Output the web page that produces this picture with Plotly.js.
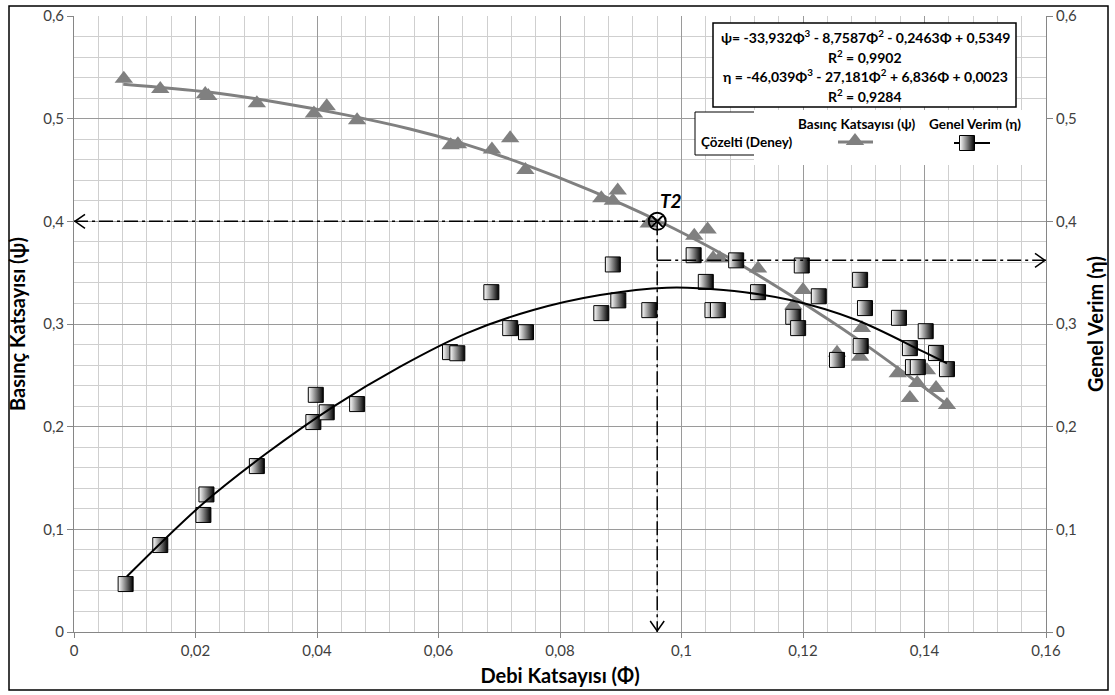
<!DOCTYPE html>
<html>
<head>
<meta charset="utf-8">
<script src="https://cdn.plot.ly/plotly-3.0.1.min.js"></script>
<style>
html,body{margin:0;padding:0;background:#fff;}
#chart{width:1115px;height:695px;}
</style>
</head>
<body>
<div id="chart"></div>
<script>
// ---- data ----
const phiPsi = [0.0082,0.0142,0.0216,0.0221,0.0301,0.0395,0.0416,0.0466,0.0620,0.0632,0.0688,0.0718,0.0743,0.0868,0.0887,0.0895,0.0946,0.1021,0.1043,0.1052,0.1063,0.1126,0.1184,0.1200,0.1256,0.1294,0.1297,0.1356,0.1376,0.1388,0.1404,0.1419,0.1437];
const psi    = [0.539,0.529,0.524,0.522,0.515,0.505,0.512,0.4985,0.474,0.475,0.470,0.481,0.450,0.4226,0.420,0.430,0.398,0.386,0.392,0.364,0.364,0.354,0.318,0.333,0.272,0.268,0.296,0.252,0.228,0.2425,0.255,0.2376,0.221];

const phiEta = [0.0085,0.0142,0.0213,0.0218,0.0301,0.0394,0.0398,0.0416,0.0466,0.0619,0.0631,0.0687,0.0718,0.0744,0.0868,0.0887,0.0896,0.0947,0.1020,0.1040,0.1051,0.1060,0.1090,0.1126,0.1184,0.1192,0.1198,0.1226,0.1256,0.1294,0.1295,0.1302,0.1358,0.1376,0.1381,0.1389,0.1402,0.1419,0.1437];
const eta    = [0.0467,0.0847,0.114,0.134,0.1616,0.2045,0.231,0.214,0.222,0.2726,0.2715,0.331,0.296,0.292,0.3106,0.358,0.323,0.3135,0.367,0.341,0.3135,0.3135,0.362,0.331,0.307,0.296,0.357,0.327,0.265,0.343,0.2785,0.3155,0.306,0.2765,0.258,0.258,0.293,0.2717,0.256];

// trend curves
const psiFitPhi = [0.0081,0.0224,0.0334,0.0443,0.0553,0.0630,0.0740,0.0849,0.0959,0.1069,0.1179,0.1288,0.1398,0.1442];
const psiFit    = [0.5336,0.5257,0.5160,0.5042,0.4900,0.4776,0.4558,0.4305,0.4013,0.3675,0.3282,0.2860,0.2389,0.2194];
const etaFitPhi = [0.0087,0.0213,0.0317,0.0427,0.0537,0.0646,0.0756,0.0866,0.0976,0.1069,0.1179,0.1288,0.1398,0.1437];
const etaFit    = [0.0540,0.1254,0.1741,0.2196,0.2585,0.2909,0.3136,0.3282,0.3354,0.3331,0.3234,0.3039,0.2730,0.2617];

// operating point T2
const t2Phi = 0.096, t2Psi = 0.4, t2Eta = 0.362;

const xTicks = [0,0.02,0.04,0.06,0.08,0.1,0.12,0.14,0.16];
const yTicks = [0,0.1,0.2,0.3,0.4,0.5,0.6];

const eqLines = [
  "ψ= -33,932Φ<sup>3</sup> - 8,7587Φ<sup>2</sup> - 0,2463Φ + 0,5349",
  "R<sup>2</sup> = 0,9902",
  "η = -46,039Φ<sup>3</sup> - 27,181Φ<sup>2</sup> + 6,836Φ + 0,0023",
  "R<sup>2</sup> = 0,9284"
];
const seriesNames = ["Basınç Katsayısı (ψ)", "Genel Verim (η)"];
const groupName = "Çözelti (Deney)";

// ---- layout helpers ----
const W = 1115, H = 695, L = 74, R = 69, T = 16, B = 63;
const PW = W - L - R, PH = H - T - B;
const px = x => (x - L) / PW;            // pixel -> paper x
const py = y => (H - B - y) / PH;        // pixel -> paper y
const XR = [xTicks[0], xTicks[xTicks.length-1]], YR = [yTicks[0], yTicks[yTicks.length-1]];
const dx = x => XR[0] + px(x) * (XR[1]-XR[0]);   // pixel -> data x
const dy = y => YR[0] + py(y) * (YR[1]-YR[0]);   // pixel -> data y
const FONT = "Lato, 'Open Sans', sans-serif";
const GRAY = "#808080";
const dashDot = "14px,4px,3px,4px";

const sqMarker = {symbol:'square', size:15, color:'#ffffff',
  gradient:{type:'horizontal', color:'#000000'}, line:{color:'#000', width:1}};
const triMarker = {symbol:'triangle-up', size:16, color:GRAY, line:{width:0}};

const traces = [
  {x:phiPsi, y:psi, mode:'markers', marker:triMarker, xaxis:'x', yaxis:'y', showlegend:false, hoverinfo:'skip'},
  {x:phiEta, y:eta, mode:'markers', marker:sqMarker, xaxis:'x', yaxis:'y2', showlegend:false, hoverinfo:'skip'},
  {x:psiFitPhi, y:psiFit, mode:'lines', line:{color:GRAY, width:3, shape:'spline', smoothing:1}, xaxis:'x', yaxis:'y', showlegend:false, hoverinfo:'skip'},
  {x:etaFitPhi, y:etaFit, mode:'lines', line:{color:'#000', width:2, shape:'spline', smoothing:1}, xaxis:'x', yaxis:'y2', showlegend:false, hoverinfo:'skip'},
  // guide lines through T2
  {x:[XR[0], t2Phi], y:[t2Psi, t2Psi], mode:'lines', line:{color:'#000', width:1.5, dash:dashDot}, xaxis:'x', yaxis:'y', showlegend:false, hoverinfo:'skip'},
  {x:[t2Phi, t2Phi], y:[t2Psi, YR[0]], mode:'lines', line:{color:'#000', width:1.5, dash:dashDot}, xaxis:'x', yaxis:'y', showlegend:false, hoverinfo:'skip'},
  {x:[t2Phi, XR[1]], y:[t2Eta, t2Eta], mode:'lines', line:{color:'#000', width:1.5, dash:dashDot}, xaxis:'x', yaxis:'y2', showlegend:false, hoverinfo:'skip'},
  {x:[t2Phi], y:[t2Psi], mode:'markers', marker:{symbol:'circle-x-open', size:17, color:'#000', line:{width:2, color:'#000'}}, xaxis:'x', yaxis:'y', showlegend:false, hoverinfo:'skip'},
  // legend glyphs (in a pixel-based helper axis)
  {x:[838,873], y:[142,142], mode:'lines', line:{color:GRAY, width:3}, xaxis:'x3', yaxis:'y3', showlegend:false, hoverinfo:'skip'},
  {x:[855], y:[141], mode:'markers', marker:triMarker, xaxis:'x3', yaxis:'y3', showlegend:false, hoverinfo:'skip'},
  {x:[954,990], y:[143,143], mode:'lines', line:{color:'#000', width:2}, xaxis:'x3', yaxis:'y3', showlegend:false, hoverinfo:'skip'},
  {x:[967], y:[143], mode:'markers', marker:sqMarker, xaxis:'x3', yaxis:'y3', showlegend:false, hoverinfo:'skip'}
];

const tickFont = {family:FONT, size:15, color:'#404040'};
const titleFont = {family:FONT, size:20, color:'#000'};

const axisCommon = {
  showline:true, linecolor:'#868686', linewidth:1,
  gridcolor:'#9a9a9a', gridwidth:1,
  ticks:'outside', ticklen:6, tickcolor:'#868686',
  tickfont:tickFont, zeroline:false, automargin:false
};

const layout = {
  width:W, height:H,
  margin:{l:L, r:R, t:T, b:B, pad:0},
  paper_bgcolor:'#fff', plot_bgcolor:'#fff',
  separators:',.',
  font:{family:FONT},
  showlegend:false,
  xaxis:Object.assign({}, axisCommon, {
    range:XR, tickvals:xTicks, ticklen:5,
    minor:{dtick:0.004, showgrid:true, gridcolor:'#cfcfcf', gridwidth:1, ticks:''},
    title:{text:'<b>Debi Katsayısı (Φ)</b>', font:titleFont, standoff:10}
  }),
  yaxis:Object.assign({}, axisCommon, {
    range:YR, tickvals:yTicks,
    minor:{dtick:0.02, showgrid:true, gridcolor:'#cfcfcf', gridwidth:1, ticks:''},
    title:{text:'<b>Basınç Katsayısı (ψ)</b>', font:titleFont, standoff:12}
  }),
  yaxis2:Object.assign({}, axisCommon, {
    range:YR, tickvals:yTicks, overlaying:'y', side:'right', showgrid:false,
    title:{text:'<b>Genel Verim (η)</b>', font:titleFont, standoff:12}
  }),
  xaxis3:{domain:[px(754), 1], range:[754, L+PW], visible:false, fixedrange:true, anchor:'y3'},
  yaxis3:{domain:[py(165), py(110)], range:[165,110], visible:false, fixedrange:true, anchor:'x3'},
  shapes:[
    // outer frame
    {type:'rect', xref:'paper', yref:'paper', x0:px(9), x1:px(1108), y0:py(690), y1:py(6), line:{color:'#000', width:1.5}, fillcolor:'rgba(0,0,0,0)', layer:'below'},
    // equation box
    {type:'rect', xref:'x', yref:'y', x0:dx(713), x1:dx(1016), y0:dy(107), y1:dy(23), line:{color:'#000', width:1.5}, fillcolor:'#fff', layer:'between'},
    // legend box
    {type:'rect', xref:'x', yref:'y', x0:dx(695), x1:dx(1033), y0:dy(155), y1:dy(112), line:{color:'#000', width:1}, fillcolor:'#fff', layer:'between'},
    // arrow heads
    {type:'path', xref:'x', yref:'y', xsizemode:'pixel', ysizemode:'pixel', xanchor:XR[0], yanchor:t2Psi, path:'M 11 7 L 1 0 L 11 -7', line:{color:'#000', width:1.5}},
    {type:'path', xref:'x', yref:'y', xsizemode:'pixel', ysizemode:'pixel', xanchor:t2Phi, yanchor:YR[0], path:'M -7 11 L 0 1 L 7 11', line:{color:'#000', width:1.5}},
    {type:'path', xref:'x', yref:'y2', xsizemode:'pixel', ysizemode:'pixel', xanchor:XR[1], yanchor:t2Eta, path:'M -11 7 L -1 0 L -11 -7', line:{color:'#000', width:1.5}}
  ],
  annotations:[
    {xref:'paper', yref:'paper', x:px(865), y:py(37), text:'<b>'+eqLines[0]+'</b>', showarrow:false, font:{family:FONT, size:14, color:'#000'}, xanchor:'center', yanchor:'middle'},
    {xref:'paper', yref:'paper', x:px(865), y:py(56), text:'<b>'+eqLines[1]+'</b>', showarrow:false, font:{family:FONT, size:14, color:'#000'}, xanchor:'center', yanchor:'middle'},
    {xref:'paper', yref:'paper', x:px(865), y:py(76), text:'<b>'+eqLines[2]+'</b>', showarrow:false, font:{family:FONT, size:14, color:'#000'}, xanchor:'center', yanchor:'middle'},
    {xref:'paper', yref:'paper', x:px(865), y:py(95), text:'<b>'+eqLines[3]+'</b>', showarrow:false, font:{family:FONT, size:14, color:'#000'}, xanchor:'center', yanchor:'middle'},
    {xref:'paper', yref:'paper', x:px(857), y:py(124), text:'<b>'+seriesNames[0]+'</b>', showarrow:false, font:{family:FONT, size:13.5, color:'#000'}, xanchor:'center', yanchor:'middle'},
    {xref:'paper', yref:'paper', x:px(975), y:py(124), text:'<b>'+seriesNames[1]+'</b>', showarrow:false, font:{family:FONT, size:13.5, color:'#000'}, xanchor:'center', yanchor:'middle'},
    {xref:'paper', yref:'paper', x:px(699), y:py(142), text:'<b>'+groupName+'</b>', showarrow:false, font:{family:FONT, size:13.5, color:'#000'}, xanchor:'left', yanchor:'middle'},
    {xref:'x', yref:'y', x:t2Phi, y:t2Psi, text:'<b><i>T2</i></b>', showarrow:false, font:{family:FONT, size:19, color:'#000'}, xanchor:'left', yanchor:'bottom', xshift:1, yshift:7}
  ]
};

Plotly.newPlot('chart', traces, layout, {staticPlot:true, displayModeBar:false});
</script>
</body>
</html>
